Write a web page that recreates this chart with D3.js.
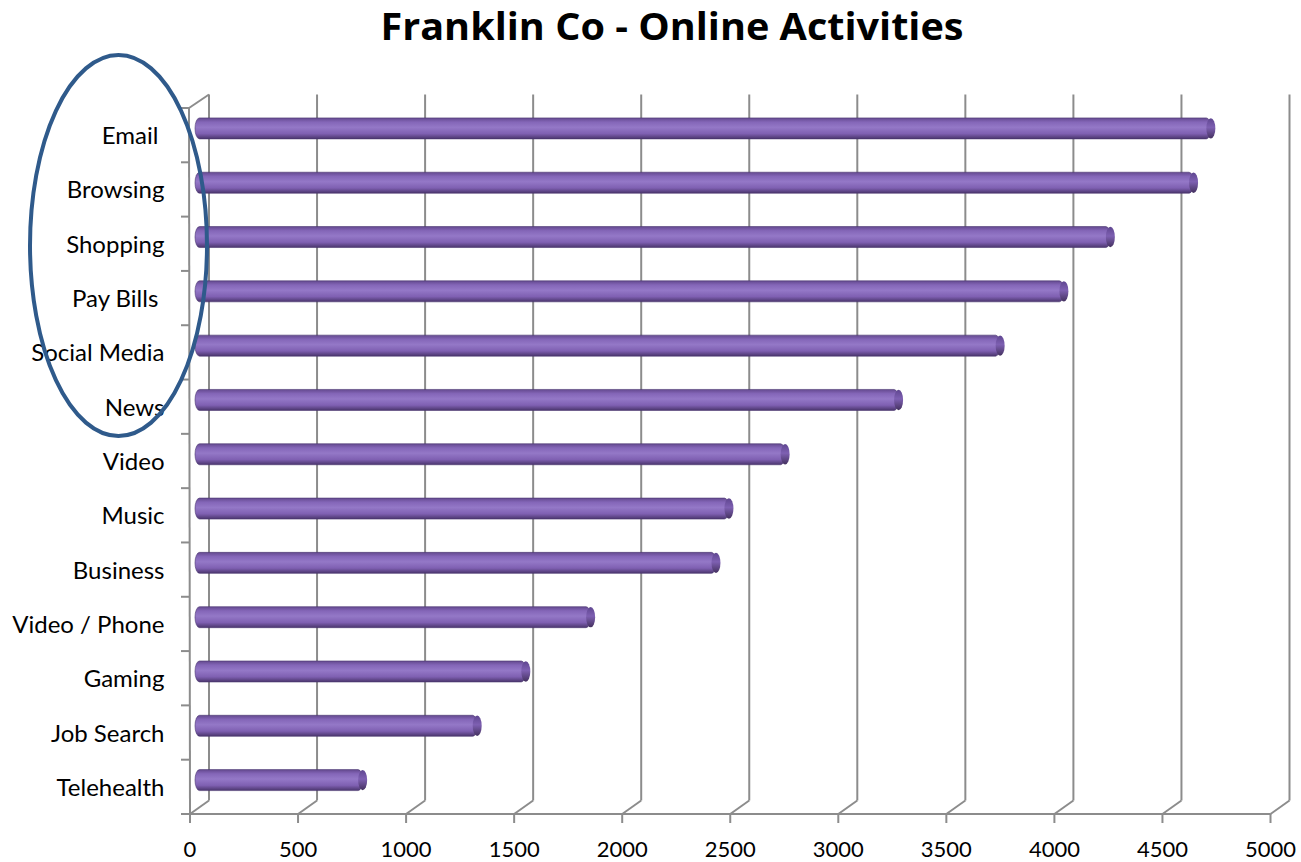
<!DOCTYPE html>
<html><head><meta charset="utf-8">
<script src="https://cdn.jsdelivr.net/npm/d3@7"></script>
<style>html,body{margin:0;padding:0;background:#fff;}svg{display:block;}</style>
</head><body>
<svg id="c" width="1301" height="862"></svg>
<script>
const categories = ["Email ","Browsing","Shopping","Pay Bills ","Social Media","News","Video","Music","Business","Video / Phone","Gaming","Job Search","Telehealth"];
const values = [4680,4600,4215,4000,3705,3235,2710,2450,2390,1810,1510,1285,755];
const xTicks = [0,500,1000,1500,2000,2500,3000,3500,4000,4500,5000];
const title = "Franklin Co - Online Activities";

const svg = d3.select("#c");
const font = "Lato, 'Open Sans', sans-serif";
const x = d3.scaleLinear().domain([0,5000]).range([190,1270.5]);
const y = d3.scaleBand().domain(categories).range([108,814]);
const DX = 19, DY = -13.5;   // depth offset of back wall
const floorY = 814;
const grid = "#8c8c8c";

const defs = svg.append("defs");
const g1 = defs.append("linearGradient").attr("id","cyl").attr("x1",0).attr("y1",0).attr("x2",0).attr("y2",1);
[[0,"#64498f"],[0.2,"#8466b8"],[0.45,"#9478c7"],[0.75,"#7f60b2"],[1,"#4a356c"]].forEach(s=>g1.append("stop").attr("offset",s[0]).attr("stop-color",s[1]));
const g2 = defs.append("linearGradient").attr("id","cap").attr("x1",0).attr("y1",0).attr("x2",0).attr("y2",1);
[[0,"#5f4690"],[0.45,"#7e60b2"],[1,"#44315f"]].forEach(s=>g2.append("stop").attr("offset",s[0]).attr("stop-color",s[1]));

// Back wall gridlines
svg.append("g").selectAll("line").data(xTicks).join("line")
  .attr("x1",d=>x(d)+DX).attr("x2",d=>x(d)+DX)
  .attr("y1",y.range()[0]+DY).attr("y2",floorY+DY)
  .attr("stroke",grid).attr("stroke-width",2);
// Floor diagonals
svg.append("g").selectAll("line").data(xTicks).join("line")
  .attr("x1",d=>x(d)+DX).attr("y1",floorY+DY)
  .attr("x2",d=>x(d)).attr("y2",floorY)
  .attr("stroke",grid).attr("stroke-width",2);
// Front floor edge
svg.append("line").attr("x1",x(0)-9).attr("x2",x(5000)).attr("y1",floorY).attr("y2",floorY)
  .attr("stroke",grid).attr("stroke-width",2);
// Left front axis + top diagonal
svg.append("line").attr("x1",x(0)-1).attr("x2",x(0)).attr("y1",y.range()[0]).attr("y2",floorY)
  .attr("stroke",grid).attr("stroke-width",2);
svg.append("line").attr("x1",x(0)-1).attr("y1",y.range()[0]).attr("x2",x(0)+DX).attr("y2",y.range()[0]+DY)
  .attr("stroke",grid).attr("stroke-width",2);
// Bottom tick marks
svg.append("g").selectAll("line").data(xTicks).join("line")
  .attr("x1",d=>x(d)).attr("x2",d=>x(d)).attr("y1",floorY).attr("y2",floorY+9)
  .attr("stroke",grid).attr("stroke-width",2);
// Left tick marks at band boundaries
const bounds = categories.map(c=>y(c)).concat([y.range()[1]]);
svg.append("g").selectAll("line").data(bounds).join("line")
  .attr("x1",x(0)-9).attr("x2",x(0)).attr("y1",d=>d).attr("y2",d=>d)
  .attr("stroke",grid).attr("stroke-width",2);

// Bars (cylinders at mid depth)
const h = 21, capR = 4.5;
const bars = svg.append("g").selectAll("g").data(categories).join("g");
bars.append("rect")
  .attr("x",x(0)+DX/2-capR).attr("y",c=>y(c)+y.bandwidth()/2+DY/2-h/2)
  .attr("width",(c,i)=>x(values[i])-x(0)+capR)
  .attr("height",h).attr("rx",capR).attr("ry",h/2)
  .attr("fill","url(#cyl)").attr("stroke","#4a3570").attr("stroke-width",0.6);
bars.append("ellipse")
  .attr("cx",(c,i)=>x(values[i])+DX/2)
  .attr("cy",c=>y(c)+y.bandwidth()/2+DY/2)
  .attr("rx",capR).attr("ry",h/2-0.3)
  .attr("fill","url(#cap)").attr("stroke","none");

// Category labels
svg.append("g").selectAll("text").data(categories).join("text")
  .attr("x",164.5).attr("y",c=>y(c)+y.bandwidth()/2+9)
  .attr("text-anchor","end").attr("font-family",font).attr("font-size",24)
  .attr("xml:space","preserve").style("white-space","pre")
  .attr("fill","#000").text(c=>c);

// X tick labels
svg.append("g").selectAll("text").data(xTicks).join("text")
  .attr("x",d=>x(d)).attr("y",857)
  .attr("text-anchor","middle").attr("font-family",font).attr("font-size",22)
  .attr("fill","#000").text(d=>d);

// Title
const t = svg.append("text").attr("x",672).attr("y",40).attr("text-anchor","middle")
  .attr("font-family","'Open Sans', Lato, sans-serif").attr("font-weight","bold").attr("font-size",36).attr("fill","#000").text(title);
const w = t.node().getComputedTextLength();
t.attr("font-size",Math.min(37, 36*583/w));
t.attr("textLength",583).attr("lengthAdjust","spacingAndGlyphs");

// Annotation ellipse
svg.append("ellipse").attr("cx",118.5).attr("cy",245.5).attr("rx",88.5).attr("ry",190.5)
  .attr("fill","none").attr("stroke","#2f5a8b").attr("stroke-width",4);
</script>
</body></html>
